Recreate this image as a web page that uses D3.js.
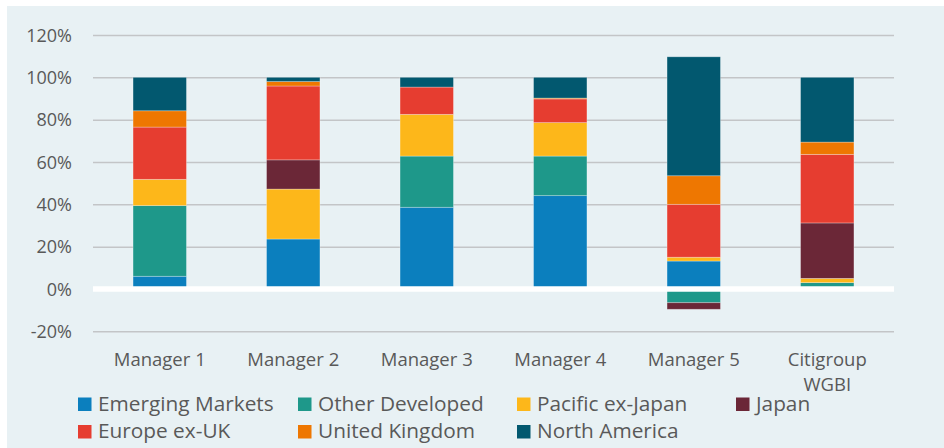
<!DOCTYPE html>
<html>
<head>
<meta charset="utf-8">
<script src="https://cdn.jsdelivr.net/npm/d3@7"></script>
<style>
  body { margin: 0; background: #fff; }
  text { font-family: "Open Sans", sans-serif; fill: #595959; }
</style>
</head>
<body>
<div id="chart"></div>
<script>
// categories and series (percent of portfolio)
var managers = ["Manager 1", "Manager 2", "Manager 3", "Manager 4", "Manager 5", "Citigroup WGBI"];
var regions = ["Emerging Markets", "Other Developed", "Pacific ex-Japan", "Japan", "Europe ex-UK", "United Kingdom", "North America"];

var emergingMarkets = [6.0, 23.6, 38.6, 44.1, 13.2, 0];
var otherDeveloped  = [33.4, 0, 24.2, 18.7, -6.5, 3.0];
var pacificExJapan  = [12.4, 23.6, 19.7, 15.8, 1.8, 2.0];
var japan           = [0, 13.8, 0, 0, -3.1, 26.2];
var europeExUK      = [24.7, 34.9, 12.9, 11.2, 25.0, 32.4];
var unitedKingdom   = [7.7, 2.1, 0, 0.4, 13.5, 5.8];
var northAmerica    = [15.8, 2.0, 4.6, 9.8, 56.2, 30.6];

var yTicks = [-20, 0, 20, 40, 60, 80, 100, 120];

var colors = ["#0b7fbe", "#1e988a", "#fdb71a", "#6b2737", "#e63d30", "#ee7701", "#02586f"];

var seriesValues = [emergingMarkets, otherDeveloped, pacificExJapan, japan, europeExUK, unitedKingdom, northAmerica];

var W = 944, H = 448;

var svg = d3.select("#chart").append("svg")
    .attr("width", W)
    .attr("height", H);

// panel background
svg.append("rect")
    .attr("x", 7).attr("y", 6)
    .attr("width", W - 7).attr("height", H - 6)
    .attr("fill", "#e8f1f4");

var x = d3.scaleBand()
    .domain(managers)
    .range([93, 894])
    .paddingInner(0.6)
    .paddingOuter(0.3);

var y = d3.scaleLinear()
    .domain([-20, 120])
    .range([331.3, 35]);

// gridlines + tick labels
var yAxis = d3.axisLeft(y)
    .tickValues(yTicks)
    .tickSize(-(894 - 93))
    .tickFormat(d => d + "%");

var gy = svg.append("g")
    .attr("transform", "translate(93,0)")
    .call(yAxis);
gy.select(".domain").remove();
gy.selectAll(".tick line")
    .attr("stroke", "#c3c5c7")
    .attr("stroke-width", 1.5);
gy.selectAll(".tick text")
    .attr("x", -21)
    .attr("dy", "0.34em")
    .style("font-size", "18px")
    .style("font-family", "'Open Sans', sans-serif")
    .attr("fill", "#595959");

// stack with positive and negative offsets
var rows = managers.map(function(m, i) {
    var r = {manager: m};
    regions.forEach(function(k, j) { r[k] = seriesValues[j][i]; });
    return r;
});

var stack = d3.stack()
    .keys(regions)
    .offset(d3.stackOffsetDiverging);

var stacked = stack(rows);

var layers = svg.append("g").selectAll("g")
    .data(stacked)
    .enter().append("g")
    .attr("fill", (d, i) => colors[i]);

layers.selectAll("rect")
    .data(d => d)
    .enter().append("rect")
    .filter(d => d[1] - d[0] !== 0)
    .attr("x", d => x(d.data.manager))
    .attr("width", x.bandwidth())
    .attr("y", d => y(Math.max(d[0], d[1])))
    .attr("height", d => Math.abs(y(d[0]) - y(d[1])))
    .attr("stroke", "rgba(255,255,255,0.35)")
    .attr("stroke-width", 0.8);

// zero line drawn over the bars
svg.append("line")
    .attr("x1", 93).attr("x2", 894)
    .attr("y1", y(0)).attr("y2", y(0))
    .attr("stroke", "#ffffff")
    .attr("stroke-width", 5.5);

// category labels
var catG = svg.append("g");
managers.forEach(function(m) {
    var parts = m === "Citigroup WGBI" ? ["Citigroup", "WGBI"] : [m];
    var t = catG.append("text")
        .attr("x", x(m) + x.bandwidth() / 2)
        .attr("y", 365.5)
        .attr("text-anchor", "middle")
        .style("font-size", "18.5px");
    parts.forEach(function(p, i) {
        t.append("tspan")
            .attr("x", x(m) + x.bandwidth() / 2)
            .attr("dy", i === 0 ? 0 : 25)
            .text(p);
    });
});

// legend
var legendCols = [78, 298, 517, 736];
var legendRows = [397.5, 425];
var legend = svg.append("g");
regions.forEach(function(r, i) {
    var col = i < 4 ? i : i - 4;
    var row = i < 4 ? 0 : 1;
    var g = legend.append("g")
        .attr("transform", `translate(${legendCols[col]}, ${legendRows[row]})`);
    g.append("rect")
        .attr("width", 13.5).attr("height", 13.5)
        .attr("fill", colors[i]);
    g.append("text")
        .attr("x", 20)
        .attr("y", 13.3)
        .style("font-size", "20.8px")
        .text(r);
});
</script>
</body>
</html>
